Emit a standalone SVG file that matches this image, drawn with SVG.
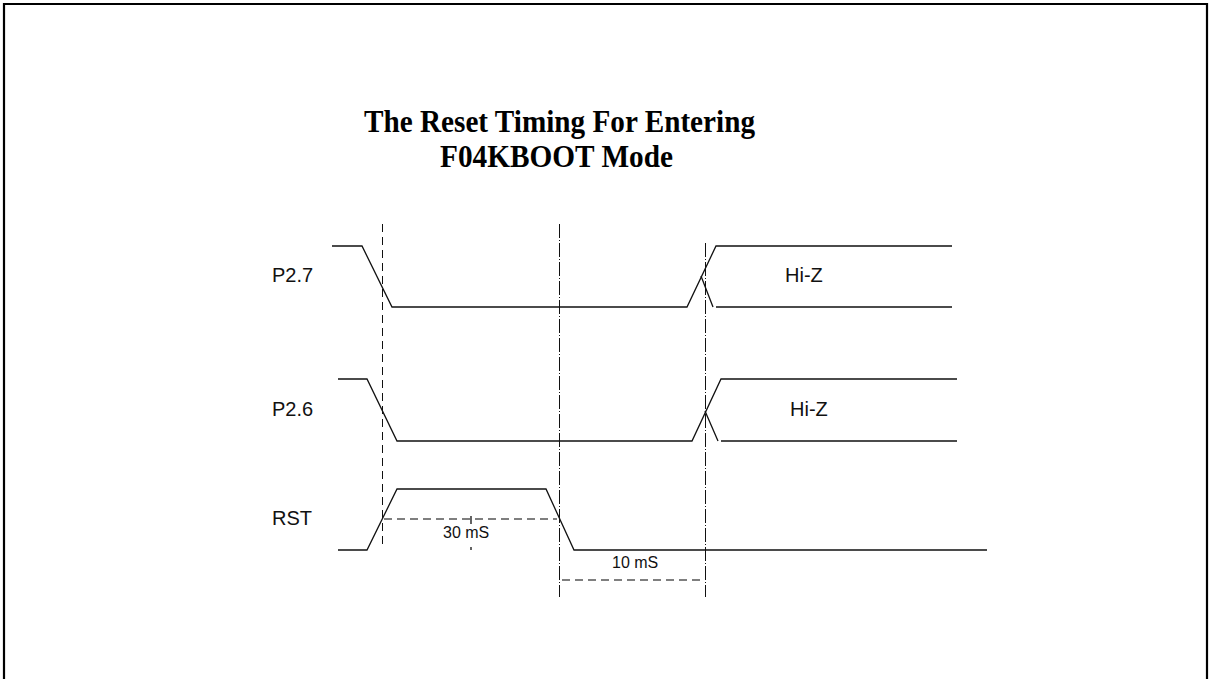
<svg xmlns="http://www.w3.org/2000/svg" width="1211" height="679" viewBox="0 0 1211 679">
<style>
.sig{fill:none;stroke:#111;stroke-width:1.3;stroke-linejoin:miter}
.lbl{font-family:"Liberation Sans",Arial,sans-serif;font-size:20px;fill:#111}
.dim{font-family:"Liberation Sans",Arial,sans-serif;font-size:16px;fill:#111}
.title{font-family:"Liberation Serif","Times New Roman",serif;font-weight:bold;font-size:32px;fill:#000}
.vdash{fill:none;stroke:#111;stroke-width:1;stroke-dasharray:8,5}
.vdd{fill:none;stroke:#111;stroke-width:1;stroke-dasharray:14,2,1,2}
.hdash{fill:none;stroke:#555;stroke-width:1.3;stroke-dasharray:8,5}
</style>
<rect width="1211" height="679" fill="#fff"/>
<path d="M4,690 V4 H1207 V690" fill="none" stroke="#000" stroke-width="2.2"/>
<g id="title">
<text class="title" x="364" y="132" textLength="391" lengthAdjust="spacingAndGlyphs">The Reset Timing For Entering</text>
<text class="title" x="440" y="167" textLength="233" lengthAdjust="spacingAndGlyphs">F04KBOOT Mode</text>
</g>
<g id="P27">
<text class="lbl" x="272" y="282">P2.7</text>
<path class="sig" d="M332,246 H362 L392,307 H687 L716,246 H952"/>
<path class="sig" d="M701,276 L713,307 M716,307 H952"/>
<text class="lbl" x="785" y="282">Hi-Z</text>
</g>
<g id="P26">
<text class="lbl" x="272" y="416">P2.6</text>
<path class="sig" d="M338,379 H367 L397,441 H692 L721,379 H957"/>
<path class="sig" d="M705,411 L718,441 M721,441 H957"/>
<text class="lbl" x="790" y="416">Hi-Z</text>
</g>
<g id="RST">
<text class="lbl" x="272" y="525">RST</text>
<path class="sig" d="M338,550 H367 L397,489 H546 L574,550 H987"/>
</g>
<g id="connectors">
<path class="vdash" d="M382.5,224 V546"/>
<path class="vdd" d="M559.5,224 V597"/>
<path class="vdd" d="M705.5,243 V597"/>
<path class="hdash" d="M384,519 H557"/>
<path class="hdash" d="M562,580 H702"/>
<path d="M471,516 V524 M471,547 V550" stroke="#111" stroke-width="1.3"/>
</g>
<g id="dims">
<text class="dim" x="443" y="538">30 mS</text>
<text class="dim" x="612" y="568">10 mS</text>
</g>
</svg>
